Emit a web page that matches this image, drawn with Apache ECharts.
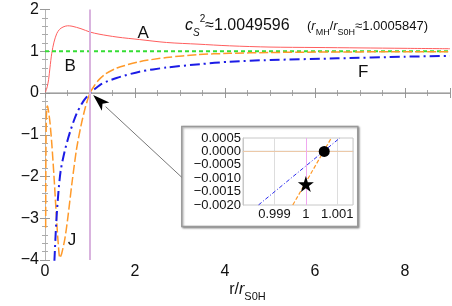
<!DOCTYPE html>
<html><head><meta charset="utf-8">
<script src="https://cdn.jsdelivr.net/npm/echarts@6/dist/echarts.min.js"></script>
<style>html,body{margin:0;padding:0;background:#fff}#c{width:452px;height:306px}</style>
</head><body><div id="c"></div>
<script>
const FF = '"Liberation Sans", Arial, sans-serif';
// main curves
const redX = [0.01,0.03,0.05,0.08,0.11,0.15,0.2,0.26,0.32,0.4,0.5,0.6,0.8,1.0,1.2,1.6,2.1,2.7,3.4,4.1,5,6,7,8,9];
const redY = [0.02,0.08,0.15,0.32,0.6,0.95,1.22,1.42,1.52,1.58,1.61,1.60,1.54,1.46,1.41,1.34,1.28,1.21,1.17,1.13,1.10,1.09,1.08,1.07,1.06];
const greenX = [0, 9];
const greenY = [1, 1];
const orangeX = [0.015,0.017,0.022,0.03,0.04,0.05,0.06,0.08,0.11,0.15,0.2,0.25,0.29,0.33,0.37,0.44,0.5,0.6,0.7,0.8,0.9,1.0,1.1,1.2,1.35,1.6,2.1,2.7,3.4,4.1,5,6,7,8,9];
const orangeY = [-3.23,-2.3,-1.2,-0.6,-0.36,-0.31,-0.33,-0.45,-0.7,-1.2,-2.0,-2.9,-3.55,-3.95,-3.85,-3.5,-3.05,-2.15,-1.35,-0.78,-0.33,0.0,0.18,0.32,0.46,0.6,0.75,0.85,0.92,0.95,0.97,0.98,0.985,0.99,0.99];
const blueX = [0.19,0.21,0.25,0.3,0.35,0.44,0.56,0.7,0.85,1.0,1.1,1.26,1.59,2.1,2.7,3.44,4.1,5,6.5,8,9];
const blueY = [-4.5,-4.0,-3.1,-2.35,-1.85,-1.38,-0.92,-0.5,-0.2,0.0,0.09,0.22,0.36,0.51,0.61,0.69,0.75,0.79,0.83,0.87,0.89];
// curve labels
const labelNames = ['A','B','F','J'];
const labelX = [2.18, 0.56, 7.07, 0.6];
const labelY = [1.44, 0.65, 0.50, -3.52];
// inset
const insetBlueX = [0.998492, 1.00108];
const insetBlueY = [-0.002, 0.0005];
const insetOrangeX = [0.999584, 1.00081];
const insetOrangeY = [-0.002, 0.0005];
const horizonPoint = [1.000585, 0];
const starPoint = [1.0, -0.00122];
const cs2Text = '1.0049596';
const ratioText = '1.0005847';
const arrowFrom = [3.04, -2.02];
const arrowTo = [1.07, -0.05];

const zip = (xs, ys) => xs.map((x, i) => [x, ys[i]]);
const minus = v => String(v).replace('-', '\u2212');

const chart = echarts.init(document.getElementById('c'), null, {renderer: 'canvas'});
const tickStyle = {color: '#999', width: 1};
const mainX = (pos, show) => ({
  gridIndex: 0, type: 'value', min: 0, max: 9, interval: 2, position: pos,
  axisLine: {show: true, lineStyle: {color: '#b5b5b5'}},
  axisTick: {show: true, inside: true, length: 5, lineStyle: tickStyle},
  minorTick: {show: true, splitNumber: 4, length: 3, lineStyle: {color: '#aaa'}},
  splitLine: {show: false},
  axisLabel: {show: show, fontSize: 16, color: '#111', margin: 4, fontFamily: FF, showMaxLabel: false}
});
const mainY = (pos, show) => ({
  gridIndex: 0, type: 'value', min: -4, max: 2, interval: 1, position: pos,
  axisLine: {show: true, lineStyle: {color: '#b5b5b5'}},
  axisTick: {show: true, inside: true, length: 5, lineStyle: tickStyle},
  minorTick: {show: true, splitNumber: 5, length: 3, lineStyle: {color: '#aaa'}},
  splitLine: {show: false},
  axisLabel: {show: show, fontSize: 16, color: '#111', margin: 6, fontFamily: FF, formatter: v => minus(v)}
});

const option = {
  animation: false,
  grid: [
    {left: 45, top: 9.5, width: 405, height: 250.5, show: false},
    {left: 243, top: 138, width: 110, height: 67, show: true, borderColor: '#c8c8c8', borderWidth: 1, backgroundColor: 'transparent'}
  ],
  xAxis: [
    mainX('bottom', true), mainX('top', false),
    {gridIndex: 1, type: 'value', min: 0.998, max: 1.0015, interval: 0.001, z: 3,
     axisLine: {show: true, lineStyle: {color: '#c8c8c8'}},
     axisTick: {show: false},
     splitLine: {show: true, lineStyle: {color: '#dddddd', width: 1}},
     axisLabel: {fontSize: 13, color: '#111', margin: 3, fontFamily: FF, showMinLabel: true, showMaxLabel: true,
       formatter: v => { const r = Math.round(v * 1e5) / 1e5; if (r === 0.999) return '0.999'; if (r === 1) return '1'; if (r === 1.001) return '1.001'; return ''; }}}
  ],
  yAxis: [
    mainY('left', true), mainY('right', false),
    {gridIndex: 1, type: 'value', min: -0.002, max: 0.0005, interval: 0.0005, z: 3,
     axisLine: {show: true, lineStyle: {color: '#c8c8c8'}},
     axisTick: {show: false},
     splitLine: {show: false},
     axisLabel: {fontSize: 13, color: '#111', margin: 2, fontFamily: FF,
       formatter: v => Math.abs(v) < 1e-9 ? '0.0000' : minus(v.toFixed(4))}}
  ],
  series: [
    {type: 'line', xAxisIndex: 0, yAxisIndex: 0, data: [[0,0],[9,0]], symbol: 'none', silent: true, z: 1,
     lineStyle: {color: '#8a8a8a', width: 1},
     markLine: {silent: true, symbol: 'none', label: {show: false}, animation: false,
       data: [{xAxis: 1, lineStyle: {color: '#d9b3de', width: 2, type: 'solid'}}]}},
    {type: 'line', xAxisIndex: 0, yAxisIndex: 0, data: zip(redX, redY), symbol: 'none', smooth: 0.3,
     lineStyle: {color: '#ff5e5e', width: 1}},
    {type: 'line', xAxisIndex: 0, yAxisIndex: 0, data: zip(greenX, greenY), symbol: 'none',
     lineStyle: {color: '#35dd35', width: 2, type: [4, 3]},
     markPoint: {symbol: 'circle', symbolSize: 0, silent: true,
       label: {show: true, formatter: '{b}', fontSize: 17, color: '#111', fontFamily: FF, position: 'inside'},
       data: labelNames.map((n, i) => ({name: n, coord: [labelX[i], labelY[i]]}))}},
    {type: 'line', xAxisIndex: 0, yAxisIndex: 0, data: zip(orangeX, orangeY), symbol: 'none', smooth: 0.25,
     lineStyle: {color: '#ff9a2a', width: 1.5, type: [9, 3]}},
    {type: 'line', xAxisIndex: 0, yAxisIndex: 0, data: zip(blueX, blueY), symbol: 'none', smooth: 0.25,
     lineStyle: {color: '#1c1ce6', width: 2, type: [10, 4, 2, 4]}},
    // inset
    {type: 'line', xAxisIndex: 2, yAxisIndex: 2, data: [[0.998,0],[1.0015,0]], symbol: 'none', silent: true, z: 3,
     lineStyle: {color: '#9a9a9a', width: 1},
     markLine: {silent: true, symbol: 'none', label: {show: false}, animation: false,
       data: [{yAxis: starPoint[1], lineStyle: {color: '#ecc9a8', width: 1.2, type: 'solid'}},
              {xAxis: horizonPoint[0], lineStyle: {color: '#f0a8f0', width: 1, type: 'solid'}}]}},
    {type: 'line', xAxisIndex: 2, yAxisIndex: 2, data: zip(insetOrangeX, insetOrangeY), symbol: 'none', z: 4,
     lineStyle: {color: '#ff9a2a', width: 1.2, type: [4, 2]}},
    {type: 'line', xAxisIndex: 2, yAxisIndex: 2, data: zip(insetBlueX, insetBlueY), symbol: 'none', z: 4,
     lineStyle: {color: '#2a2aee', width: 1, type: [4, 2, 1, 2]}},
    {type: 'scatter', xAxisIndex: 2, yAxisIndex: 2, data: [horizonPoint], symbol: 'circle', symbolSize: 11, z: 5,
     itemStyle: {color: '#000', opacity: 1}},
    {type: 'scatter', xAxisIndex: 2, yAxisIndex: 2, data: [starPoint], z: 5,
     symbol: 'path://M50,0 L61.8,35.3 L98.5,35.3 L68.8,57.1 L79.9,92.5 L50,70.9 L20.1,92.5 L31.2,57.1 L1.5,35.3 L38.2,35.3 Z',
     symbolSize: 16, itemStyle: {color: '#000', opacity: 1}}
  ]
};
chart.setOption(option);

const a = chart.convertToPixel({gridIndex: 0}, arrowFrom);
const b = chart.convertToPixel({gridIndex: 0}, arrowTo);
const dx = a[0] - b[0], dy = a[1] - b[1], L = Math.hypot(dx, dy), ux = dx / L, uy = dy / L;
const hl = 17, hw = 5.5;
const base = [b[0] + ux * hl, b[1] + uy * hl];
const headPts = [[b[0], b[1]], [base[0] - uy * hw, base[1] + ux * hw], [b[0] + ux * hl * 0.75, b[1] + uy * hl * 0.75], [base[0] + uy * hw, base[1] - ux * hw]];

const boxTL = chart.convertToPixel({gridIndex: 0}, [3.04, -0.8]);
const boxBR = chart.convertToPixel({gridIndex: 0}, [6.95, -3.2]);

chart.setOption({
  graphic: [
    {type: 'rect', z: -1, shape: {x: boxTL[0], y: boxTL[1], width: boxBR[0] - boxTL[0], height: boxBR[1] - boxTL[1]},
     style: {fill: '#fff', stroke: '#999', lineWidth: 1.5, shadowBlur: 2, shadowOffsetX: 1, shadowOffsetY: 1, shadowColor: 'rgba(0,0,0,0.35)'}},
    {type: 'line', z: 10, shape: {x1: a[0], y1: a[1], x2: base[0], y2: base[1]}, style: {stroke: '#777', lineWidth: 1}},
    {type: 'polygon', z: 10, shape: {points: headPts}, style: {fill: '#000'}},
    {type: 'text', z: 10, x: 185, y: 26, style: {
      text: '{ci|c}{sub|S}{sup|2}{n|\u2248' + cs2Text + '}',
      verticalAlign: 'middle', align: 'left', fill: '#111', fontFamily: FF,
      rich: {
        ci: {fontSize: 16, fontStyle: 'italic', lineHeight: 24, verticalAlign: 'middle', fontFamily: FF},
        sub: {fontSize: 10, fontStyle: 'italic', lineHeight: 12, verticalAlign: 'bottom', fontFamily: FF},
        sup: {fontSize: 10, lineHeight: 12, verticalAlign: 'top', fontFamily: FF},
        n: {fontSize: 16, lineHeight: 24, verticalAlign: 'middle', fontFamily: FF}
      }}},
    {type: 'text', z: 10, x: 307, y: 26, style: {
      text: '{n|(}{ri|r}{sub|MH}{n|/}{ri|r}{sub|S0H}{n|\u2248' + ratioText + ')}',
      verticalAlign: 'middle', align: 'left', fill: '#111', fontFamily: FF,
      rich: {
        n: {fontSize: 13, lineHeight: 22, verticalAlign: 'middle', fontFamily: FF},
        ri: {fontSize: 13, fontStyle: 'italic', lineHeight: 22, verticalAlign: 'middle', fontFamily: FF},
        sub: {fontSize: 9, lineHeight: 12, verticalAlign: 'bottom', fontFamily: FF}
      }}},
    {type: 'text', z: 10, x: 247.5, y: 290, style: {
      text: '{n|r/}{ri|r}{sub|S0H}',
      verticalAlign: 'middle', align: 'center', fill: '#111', fontFamily: FF,
      rich: {
        n: {fontSize: 16, lineHeight: 24, verticalAlign: 'middle', fontFamily: FF},
        ri: {fontSize: 16, fontStyle: 'italic', lineHeight: 24, verticalAlign: 'middle', fontFamily: FF},
        sub: {fontSize: 11, lineHeight: 12, verticalAlign: 'bottom', fontFamily: FF}
      }}}
  ]
});
</script></body></html>
